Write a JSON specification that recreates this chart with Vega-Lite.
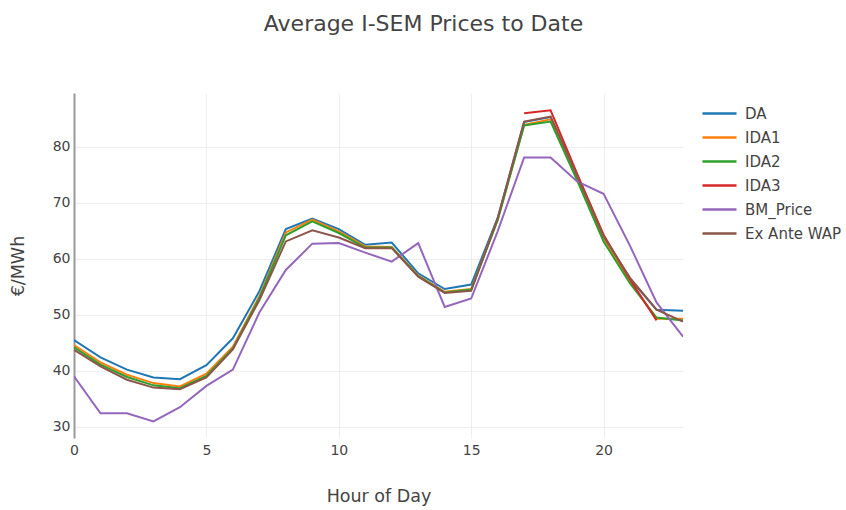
{
  "$schema": "https://vega.github.io/schema/vega-lite/v6.json",
  "width": 609,
  "height": 345,
  "autosize": {"type": "none"},
  "padding": {"left": 74, "top": 93, "right": 163, "bottom": 72},
  "background": "white",
  "title": {
    "text": "Average I-SEM Prices to Date",
    "font": "DejaVu Sans",
    "fontSize": 22,
    "fontWeight": "normal",
    "color": "#444444",
    "anchor": "middle",
    "frame": "group",
    "dx": 45,
    "offset": 57
  },
  "config": {
    "view": {"stroke": null},
    "font": "DejaVu Sans",
    "axis": {
      "labelFont": "DejaVu Sans",
      "titleFont": "DejaVu Sans",
      "labelColor": "#444444",
      "titleColor": "#444444",
      "gridColor": "#eeeeee",
      "gridWidth": 1,
      "ticks": false,
      "labelFontSize": 14,
      "titleFontSize": 17.5,
      "titleFontWeight": "normal"
    },
    "legend": {
      "labelFont": "DejaVu Sans",
      "labelColor": "#444444",
      "labelFontSize": 15
    }
  },
  "data": {
    "values": [
      {"hour": 0, "series": "DA", "price": 45.5},
      {"hour": 1, "series": "DA", "price": 42.4},
      {"hour": 2, "series": "DA", "price": 40.2},
      {"hour": 3, "series": "DA", "price": 38.8},
      {"hour": 4, "series": "DA", "price": 38.5},
      {"hour": 5, "series": "DA", "price": 41.0},
      {"hour": 6, "series": "DA", "price": 45.8},
      {"hour": 7, "series": "DA", "price": 54.2},
      {"hour": 8, "series": "DA", "price": 65.3},
      {"hour": 9, "series": "DA", "price": 67.2},
      {"hour": 10, "series": "DA", "price": 65.3},
      {"hour": 11, "series": "DA", "price": 62.5},
      {"hour": 12, "series": "DA", "price": 62.9},
      {"hour": 13, "series": "DA", "price": 57.4},
      {"hour": 14, "series": "DA", "price": 54.6},
      {"hour": 15, "series": "DA", "price": 55.4},
      {"hour": 16, "series": "DA", "price": 67.3},
      {"hour": 17, "series": "DA", "price": 84.4},
      {"hour": 18, "series": "DA", "price": 85.3},
      {"hour": 19, "series": "DA", "price": 74.8},
      {"hour": 20, "series": "DA", "price": 64.0},
      {"hour": 21, "series": "DA", "price": 56.4},
      {"hour": 22, "series": "DA", "price": 50.9},
      {"hour": 23, "series": "DA", "price": 50.7},

      {"hour": 0, "series": "IDA1", "price": 44.6},
      {"hour": 1, "series": "IDA1", "price": 41.5},
      {"hour": 2, "series": "IDA1", "price": 39.3},
      {"hour": 3, "series": "IDA1", "price": 37.8},
      {"hour": 4, "series": "IDA1", "price": 37.2},
      {"hour": 5, "series": "IDA1", "price": 39.5},
      {"hour": 6, "series": "IDA1", "price": 44.3},
      {"hour": 7, "series": "IDA1", "price": 53.3},
      {"hour": 8, "series": "IDA1", "price": 64.7},
      {"hour": 9, "series": "IDA1", "price": 67.0},
      {"hour": 10, "series": "IDA1", "price": 64.9},
      {"hour": 11, "series": "IDA1", "price": 62.2},
      {"hour": 12, "series": "IDA1", "price": 62.1},
      {"hour": 13, "series": "IDA1", "price": 57.0},
      {"hour": 14, "series": "IDA1", "price": 54.1},
      {"hour": 15, "series": "IDA1", "price": 54.6},
      {"hour": 16, "series": "IDA1", "price": 67.0},
      {"hour": 17, "series": "IDA1", "price": 83.9},
      {"hour": 18, "series": "IDA1", "price": 84.9},
      {"hour": 19, "series": "IDA1", "price": 74.4},
      {"hour": 20, "series": "IDA1", "price": 63.5},
      {"hour": 21, "series": "IDA1", "price": 55.9},
      {"hour": 22, "series": "IDA1", "price": 49.3},
      {"hour": 23, "series": "IDA1", "price": 49.3},

      {"hour": 0, "series": "IDA2", "price": 44.2},
      {"hour": 1, "series": "IDA2", "price": 41.1},
      {"hour": 2, "series": "IDA2", "price": 38.9},
      {"hour": 3, "series": "IDA2", "price": 37.4},
      {"hour": 4, "series": "IDA2", "price": 36.9},
      {"hour": 5, "series": "IDA2", "price": 39.1},
      {"hour": 6, "series": "IDA2", "price": 44.0},
      {"hour": 7, "series": "IDA2", "price": 53.0},
      {"hour": 8, "series": "IDA2", "price": 64.2},
      {"hour": 9, "series": "IDA2", "price": 66.7},
      {"hour": 10, "series": "IDA2", "price": 64.6},
      {"hour": 11, "series": "IDA2", "price": 62.0},
      {"hour": 12, "series": "IDA2", "price": 62.0},
      {"hour": 13, "series": "IDA2", "price": 56.9},
      {"hour": 14, "series": "IDA2", "price": 54.0},
      {"hour": 15, "series": "IDA2", "price": 54.5},
      {"hour": 16, "series": "IDA2", "price": 66.9},
      {"hour": 17, "series": "IDA2", "price": 83.8},
      {"hour": 18, "series": "IDA2", "price": 84.5},
      {"hour": 19, "series": "IDA2", "price": 74.0},
      {"hour": 20, "series": "IDA2", "price": 63.1},
      {"hour": 21, "series": "IDA2", "price": 55.6},
      {"hour": 22, "series": "IDA2", "price": 49.5},
      {"hour": 23, "series": "IDA2", "price": 49.0},

      {"hour": 17, "series": "IDA3", "price": 86.0},
      {"hour": 18, "series": "IDA3", "price": 86.5},
      {"hour": 19, "series": "IDA3", "price": 75.2},
      {"hour": 20, "series": "IDA3", "price": 64.3},
      {"hour": 21, "series": "IDA3", "price": 56.3},
      {"hour": 22, "series": "IDA3", "price": 49.0},

      {"hour": 0, "series": "BM_Price", "price": 39.0},
      {"hour": 1, "series": "BM_Price", "price": 32.4},
      {"hour": 2, "series": "BM_Price", "price": 32.4},
      {"hour": 3, "series": "BM_Price", "price": 30.95},
      {"hour": 4, "series": "BM_Price", "price": 33.5},
      {"hour": 5, "series": "BM_Price", "price": 37.3},
      {"hour": 6, "series": "BM_Price", "price": 40.2},
      {"hour": 7, "series": "BM_Price", "price": 50.4},
      {"hour": 8, "series": "BM_Price", "price": 58.0},
      {"hour": 9, "series": "BM_Price", "price": 62.7},
      {"hour": 10, "series": "BM_Price", "price": 62.8},
      {"hour": 11, "series": "BM_Price", "price": 61.1},
      {"hour": 12, "series": "BM_Price", "price": 59.5},
      {"hour": 13, "series": "BM_Price", "price": 62.8},
      {"hour": 14, "series": "BM_Price", "price": 51.4},
      {"hour": 15, "series": "BM_Price", "price": 52.9},
      {"hour": 16, "series": "BM_Price", "price": 64.9},
      {"hour": 17, "series": "BM_Price", "price": 78.1},
      {"hour": 18, "series": "BM_Price", "price": 78.1},
      {"hour": 19, "series": "BM_Price", "price": 73.8},
      {"hour": 20, "series": "BM_Price", "price": 71.6},
      {"hour": 21, "series": "BM_Price", "price": 62.3},
      {"hour": 22, "series": "BM_Price", "price": 52.2},
      {"hour": 23, "series": "BM_Price", "price": 46.1},

      {"hour": 0, "series": "Ex Ante WAP", "price": 43.75},
      {"hour": 1, "series": "Ex Ante WAP", "price": 40.8},
      {"hour": 2, "series": "Ex Ante WAP", "price": 38.4},
      {"hour": 3, "series": "Ex Ante WAP", "price": 37.0},
      {"hour": 4, "series": "Ex Ante WAP", "price": 36.7},
      {"hour": 5, "series": "Ex Ante WAP", "price": 38.8},
      {"hour": 6, "series": "Ex Ante WAP", "price": 43.8},
      {"hour": 7, "series": "Ex Ante WAP", "price": 52.6},
      {"hour": 8, "series": "Ex Ante WAP", "price": 63.1},
      {"hour": 9, "series": "Ex Ante WAP", "price": 65.1},
      {"hour": 10, "series": "Ex Ante WAP", "price": 63.8},
      {"hour": 11, "series": "Ex Ante WAP", "price": 61.9},
      {"hour": 12, "series": "Ex Ante WAP", "price": 61.9},
      {"hour": 13, "series": "Ex Ante WAP", "price": 56.8},
      {"hour": 14, "series": "Ex Ante WAP", "price": 53.9},
      {"hour": 15, "series": "Ex Ante WAP", "price": 54.3},
      {"hour": 16, "series": "Ex Ante WAP", "price": 67.2},
      {"hour": 17, "series": "Ex Ante WAP", "price": 84.5},
      {"hour": 18, "series": "Ex Ante WAP", "price": 85.4},
      {"hour": 19, "series": "Ex Ante WAP", "price": 74.8},
      {"hour": 20, "series": "Ex Ante WAP", "price": 64.0},
      {"hour": 21, "series": "Ex Ante WAP", "price": 56.6},
      {"hour": 22, "series": "Ex Ante WAP", "price": 50.9},
      {"hour": 23, "series": "Ex Ante WAP", "price": 48.8}
    ]
  },
  "mark": {"type": "line", "strokeWidth": 2, "clip": true},
  "encoding": {
    "x": {
      "field": "hour",
      "type": "quantitative",
      "title": "Hour of Day",
      "scale": {"domain": [0, 23], "nice": false, "zero": false},
      "axis": {
        "values": [0, 5, 10, 15, 20],
        "domain": false,
        "labelPadding": 5,
        "titlePadding": 30,
        "labelFlush": false
      }
    },
    "y": {
      "field": "price",
      "type": "quantitative",
      "title": "€/MWh",
      "scale": {"domain": [28.0, 89.6], "nice": false, "zero": false},
      "axis": {
        "values": [30, 40, 50, 60, 70, 80],
        "domain": true,
        "domainColor": "#999999",
        "domainWidth": 2,
        "labelPadding": 4,
        "titlePadding": 25,
        "labelFlush": false
      }
    },
    "color": {
      "field": "series",
      "type": "nominal",
      "title": null,
      "sort": ["DA", "IDA1", "IDA2", "IDA3", "BM_Price", "Ex Ante WAP"],
      "scale": {
        "domain": ["DA", "IDA1", "IDA2", "IDA3", "BM_Price", "Ex Ante WAP"],
        "range": ["#1f77b4", "#ff7f0e", "#2ca02c", "#d62728", "#9467bd", "#8c564b"]
      },
      "legend": {
        "orient": "none",
        "legendX": 635.5,
        "legendY": 10.5,
        "symbolType": "M-2,0H2",
        "symbolSize": 289,
        "symbolStrokeWidth": 2.5,
        "labelOffset": 15.5,
        "rowPadding": 6,
        "padding": 0
      }
    }
  }
}
